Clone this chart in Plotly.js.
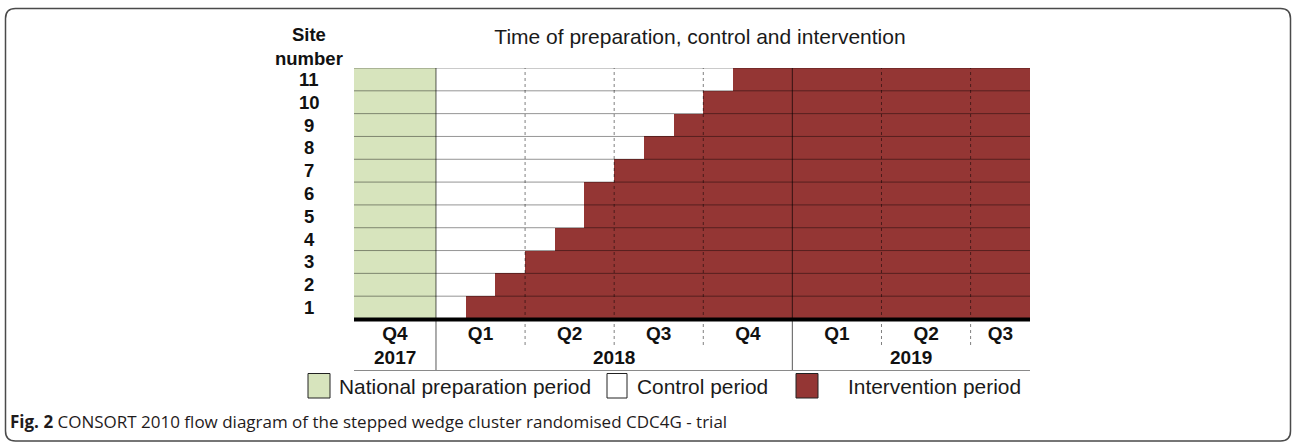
<!DOCTYPE html>
<html>
<head>
<meta charset="utf-8">
<script src="https://cdn.plot.ly/plotly-3.0.1.min.js"></script>
<style>
  html, body { margin: 0; padding: 0; background: #ffffff; }
  #chart { width: 1292px; height: 442px; }
</style>
</head>
<body>
<div id="chart"></div>
<script>
// ---------------- DATA ----------------
// Months counted from 1 January 2018 (0 = start of Q1 2018)
const sites = [1, 2, 3, 4, 5, 6, 7, 8, 9, 10, 11];
const interventionStart = [1, 2, 3, 4, 5, 5, 6, 7, 8, 9, 10];
const preparationStart = -2.76;   // start of Q4 2017 as drawn
const controlStart = 0;           // start of Q1 2018
const trialEnd = 20;              // end of drawn period (Aug 2019)

const quarterStarts = [-2.76, 0, 3, 6, 9, 12, 15, 18];
const quarterLabels = ['Q4', 'Q1', 'Q2', 'Q3', 'Q4', 'Q1', 'Q2', 'Q3'];
const yearLabels = ['2017', '2018', '2019'];
const yearStarts = [-2.76, 0, 12];

const legendLabels = ['National preparation period', 'Control period', 'Intervention period'];
const titleText = 'Time of preparation, control and intervention';
const captionBold = 'Fig. 2';
const captionText = 'CONSORT 2010 flow diagram of the stepped wedge cluster randomised CDC4G - trial';

// ---------------- STYLE ----------------
const GREEN = '#d7e4bd';
const RED = '#943634';
const FONT = 'Liberation Sans, Arial, Helvetica, sans-serif';

// pixel geometry of the plot area (layout only)
const W = 1292, H = 442;
const PL = 354, PR = 1030, PT = 68, PB = 319;
const px = x => (x - PL) / (PR - PL);
const py = y => (PB - y) / (PB - PT);

// ---------------- TRACES ----------------
const prepTrace = {
  type: 'bar', orientation: 'h', name: legendLabels[0],
  y: sites,
  base: sites.map(() => preparationStart),
  x: sites.map(() => controlStart - preparationStart),
  width: 1,
  marker: { color: GREEN, line: { width: 0 } },
  hoverinfo: 'skip', showlegend: false
};
const controlTrace = {
  type: 'bar', orientation: 'h', name: legendLabels[1],
  y: sites,
  base: sites.map(() => controlStart),
  x: interventionStart.map(s => s - controlStart),
  width: 1,
  marker: { color: '#ffffff', line: { width: 0 } },
  hoverinfo: 'skip', showlegend: false
};
const interventionTrace = {
  type: 'bar', orientation: 'h', name: legendLabels[2],
  y: sites,
  base: interventionStart,
  x: interventionStart.map(s => trialEnd - s),
  width: 1,
  marker: { color: RED, line: { width: 0 } },
  hoverinfo: 'skip', showlegend: false
};

// ---------------- SHAPES ----------------
const shapes = [];
// horizontal row separators (incl. top edge)
for (let k = 1; k <= sites.length; k++) {
  shapes.push({
    type: 'line', xref: 'x', yref: 'y', layer: 'above',
    x0: preparationStart, x1: trialEnd, y0: k + 0.5, y1: k + 0.5,
    line: { color: 'rgba(0,0,0,0.42)', width: 1 }
  });
}
// quarter separators
const quarterEdges = quarterStarts.slice(1);
quarterEdges.forEach(q => {
  const isYear = yearStarts.indexOf(q) >= 0;
  shapes.push({
    type: 'line', xref: 'x', yref: 'paper', layer: 'above',
    x0: q, x1: q, y0: isYear ? py(371) : py(345), y1: 1,
    line: isYear ? { color: 'rgba(0,0,0,0.55)', width: 1.2 }
                 : { color: 'rgba(0,0,0,0.5)', width: 1, dash: 'dot' }
  });
});
// thick base line
shapes.push({
  type: 'line', xref: 'x', yref: 'paper', layer: 'above',
  x0: preparationStart, x1: trialEnd, y0: py(319.5), y1: py(319.5),
  line: { color: '#000000', width: 4 }
});
// line under the year row
shapes.push({
  type: 'line', xref: 'x', yref: 'paper', layer: 'above',
  x0: preparationStart, x1: trialEnd, y0: py(370.5), y1: py(370.5),
  line: { color: '#8a8a8a', width: 1.2 }
});
// legend boxes
const legendBoxes = [
  { x0: 308, x1: 330, fill: GREEN },
  { x0: 607, x1: 627, fill: '#ffffff' },
  { x0: 796, x1: 818, fill: RED }
];
legendBoxes.forEach(b => {
  shapes.push({
    type: 'rect', xref: 'paper', yref: 'paper', layer: 'above',
    x0: px(b.x0), x1: px(b.x1), y0: py(373.5), y1: py(398),
    fillcolor: b.fill, line: { color: '#222222', width: 1 }
  });
});
// outer rounded frame
(function () {
  const l = 5.5, t = 8.5, r = 1290.5, b = 441, rad = 10;
  const P = (x, y) => px(x) + ',' + py(y);
  const path = 'M ' + P(l + rad, t) + ' L ' + P(r - rad, t) +
    ' Q ' + P(r, t) + ' ' + P(r, t + rad) +
    ' L ' + P(r, b - rad) + ' Q ' + P(r, b) + ' ' + P(r - rad, b) +
    ' L ' + P(l + rad, b) + ' Q ' + P(l, b) + ' ' + P(l, b - rad) +
    ' L ' + P(l, t + rad) + ' Q ' + P(l, t) + ' ' + P(l + rad, t) + ' Z';
  shapes.push({
    type: 'path', xref: 'paper', yref: 'paper', layer: 'above', path: path,
    line: { color: '#4a4a4a', width: 1.5 }, fillcolor: 'rgba(0,0,0,0)'
  });
})();

// ---------------- ANNOTATIONS ----------------
const annotations = [];
const boldFont = { family: FONT, size: 19, color: '#111111', weight: 'bold' };
const siteFont = { family: FONT, size: 18.5, color: '#111111', weight: 'bold' };
sites.forEach(s => {
  annotations.push({
    xref: 'paper', yref: 'y', x: px(309), y: s, text: String(s),
    showarrow: false, xanchor: 'center', yanchor: 'middle', font: siteFont
  });
});
annotations.push({
  xref: 'paper', yref: 'paper', x: px(309), y: py(46.5),
  text: 'Site<br>number', showarrow: false, xanchor: 'center', yanchor: 'middle',
  font: siteFont
});
// year labels
const yearEnds = yearStarts.slice(1).concat([trialEnd]);
yearLabels.forEach((yl, i) => {
  annotations.push({
    xref: 'x', yref: 'paper', x: (yearStarts[i] + yearEnds[i]) / 2, y: py(357.5),
    text: yl, showarrow: false, xanchor: 'center', yanchor: 'middle', font: boldFont
  });
});
// legend texts
const legendTextX = [339, 637, 848];
legendLabels.forEach((lab, i) => {
  annotations.push({
    xref: 'paper', yref: 'paper', x: px(legendTextX[i] - 2), y: py(386),
    text: lab, showarrow: false, xanchor: 'left', yanchor: 'middle',
    font: { family: FONT, size: 20.9, color: '#1a1a1a' }
  });
});
// caption
annotations.push({
  xref: 'paper', yref: 'paper', x: px(8), y: py(421),
  text: '<b>' + captionBold + '</b> ' + captionText,
  showarrow: false, xanchor: 'left', yanchor: 'middle',
  font: { family: 'Open Sans, Noto Sans, sans-serif', size: 17, color: '#1f1b1c' }
});

// ---------------- LAYOUT ----------------
const quarterEnds = quarterStarts.slice(1).concat([trialEnd]);
const quarterMids = quarterStarts.map((q, i) => (q + quarterEnds[i]) / 2);

const layout = {
  width: W, height: H,
  margin: { l: PL, r: W - PR, t: PT, b: H - PB, pad: 0 },
  paper_bgcolor: '#ffffff', plot_bgcolor: '#ffffff',
  barmode: 'overlay', bargap: 0,
  showlegend: false,
  title: {
    text: titleText, xref: 'paper', x: px(700), xanchor: 'center',
    yref: 'container', y: 1 - 37 / H, yanchor: 'middle',
    font: { family: FONT, size: 21, color: '#1a1a1a' }
  },
  xaxis: {
    range: [preparationStart, trialEnd], fixedrange: true,
    showgrid: false, zeroline: false, showline: false,
    tickmode: 'array', tickvals: quarterMids, ticktext: quarterLabels,
    ticks: '', ticklabelstandoff: 1,
    tickfont: boldFont
  },
  yaxis: {
    range: [0.5, 11.5], fixedrange: true,
    showgrid: false, zeroline: false, showline: false, showticklabels: false, ticks: ''
  },
  shapes: shapes,
  annotations: annotations
};

Plotly.newPlot('chart', [prepTrace, controlTrace, interventionTrace], layout,
  { displayModeBar: false, staticPlot: true });
</script>
</body>
</html>
